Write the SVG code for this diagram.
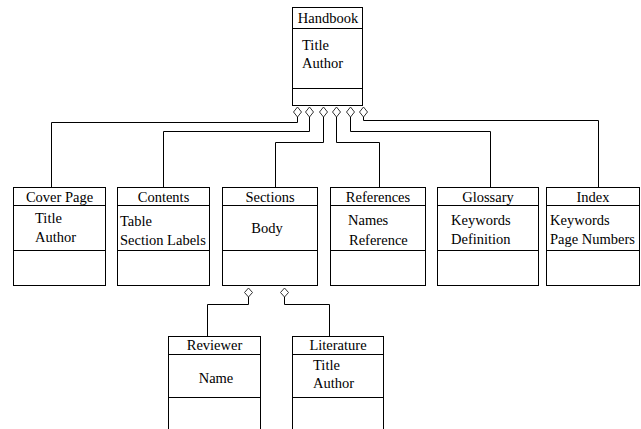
<svg xmlns="http://www.w3.org/2000/svg" width="641" height="429" viewBox="0 0 641 429">
<style>
.box{fill:#fff;stroke:#000;stroke-width:1}
.ln{fill:none;stroke:#000;stroke-width:1}
.dia{fill:#fff;stroke:#333;stroke-width:1}
text{font-family:"Liberation Serif","Times New Roman",serif;font-size:14.5px;fill:#000}
.c{text-anchor:middle}
</style>
<rect width="641" height="429" fill="#fff"/>
<g id="connectors">
<path class="ln" d="M297.5 117V122.5H51.5V187"/>
<path class="ln" d="M309.5 117V131.5H163.5V187"/>
<path class="ln" d="M323.5 117V142.5H275.5V187"/>
<path class="ln" d="M336.5 117V142.5H379.5V187"/>
<path class="ln" d="M350.5 117V131.5H490.5V187"/>
<path class="ln" d="M363.5 117V120.5H598.5V187"/>
<path class="ln" d="M248.5 297V304.5H207.5V336"/>
<path class="ln" d="M284.5 297V304.5H329.5V336"/>
<path class="dia" d="M297.5 107L301.5 112L297.5 117L293.5 112Z"/>
<path class="dia" d="M309.5 107L313.5 112L309.5 117L305.5 112Z"/>
<path class="dia" d="M323.5 107L327.5 112L323.5 117L319.5 112Z"/>
<path class="dia" d="M336.5 107L340.5 112L336.5 117L332.5 112Z"/>
<path class="dia" d="M350.5 107L354.5 112L350.5 117L346.5 112Z"/>
<path class="dia" d="M363.5 107L367.5 112L363.5 117L359.5 112Z"/>
<path class="dia" d="M248.5 288L252.5 292.5L248.5 297L244.5 292.5Z"/>
<path class="dia" d="M284.5 288L288.5 292.5L284.5 297L280.5 292.5Z"/>
</g>
<g id="handbook">
<rect class="box" x="292.5" y="7.5" width="70" height="98"/>
<path class="ln" d="M292.5 28.5H362.5M292.5 88.5H362.5"/>
<text class="c" x="328" y="23">Handbook</text>
<text x="302" y="50">Title</text>
<text x="302" y="68">Author</text>
</g>
<g id="cover">
<rect class="box" x="13.5" y="187.5" width="92" height="98"/>
<path class="ln" d="M13.5 205.5H105.5M13.5 250.5H105.5"/>
<text class="c" x="59.5" y="202">Cover Page</text>
<text x="35" y="223">Title</text>
<text x="35" y="242">Author</text>
</g>
<g id="contents">
<rect class="box" x="117.5" y="187.5" width="92" height="98"/>
<path class="ln" d="M117.5 205.5H209.5M117.5 250.5H209.5"/>
<text class="c" x="163.5" y="202">Contents</text>
<text x="120" y="226">Table</text>
<text x="120" y="245">Section Labels</text>
</g>
<g id="sections">
<rect class="box" x="222.5" y="187.5" width="95" height="98"/>
<path class="ln" d="M222.5 205.5H317.5M222.5 250.5H317.5"/>
<text class="c" x="270" y="202">Sections</text>
<text class="c" x="267" y="233">Body</text>
</g>
<g id="references">
<rect class="box" x="330.5" y="187.5" width="95" height="98"/>
<path class="ln" d="M330.5 205.5H425.5M330.5 250.5H425.5"/>
<text class="c" x="378" y="202">References</text>
<text x="348" y="225">Names</text>
<text x="349" y="245">Reference</text>
</g>
<g id="glossary">
<rect class="box" x="437.5" y="187.5" width="101" height="98"/>
<path class="ln" d="M437.5 205.5H538.5M437.5 250.5H538.5"/>
<text class="c" x="488" y="202">Glossary</text>
<text x="451" y="225">Keywords</text>
<text x="451" y="244">Definition</text>
</g>
<g id="index">
<rect class="box" x="546.5" y="187.5" width="93" height="98"/>
<path class="ln" d="M546.5 205.5H639.5M546.5 250.5H639.5"/>
<text class="c" x="593" y="202">Index</text>
<text x="550" y="225">Keywords</text>
<text x="550" y="244">Page Numbers</text>
</g>
<g id="reviewer">
<rect class="box" x="168.5" y="336.5" width="92" height="100"/>
<path class="ln" d="M168.5 354.5H260.5M168.5 397.5H260.5"/>
<text class="c" x="214.5" y="350">Reviewer</text>
<text class="c" x="216" y="383">Name</text>
</g>
<g id="literature">
<rect class="box" x="292.5" y="336.5" width="91" height="100"/>
<path class="ln" d="M292.5 354.5H383.5M292.5 397.5H383.5"/>
<text class="c" x="338" y="350">Literature</text>
<text x="313" y="370">Title</text>
<text x="313" y="388">Author</text>
</g>
</svg>
